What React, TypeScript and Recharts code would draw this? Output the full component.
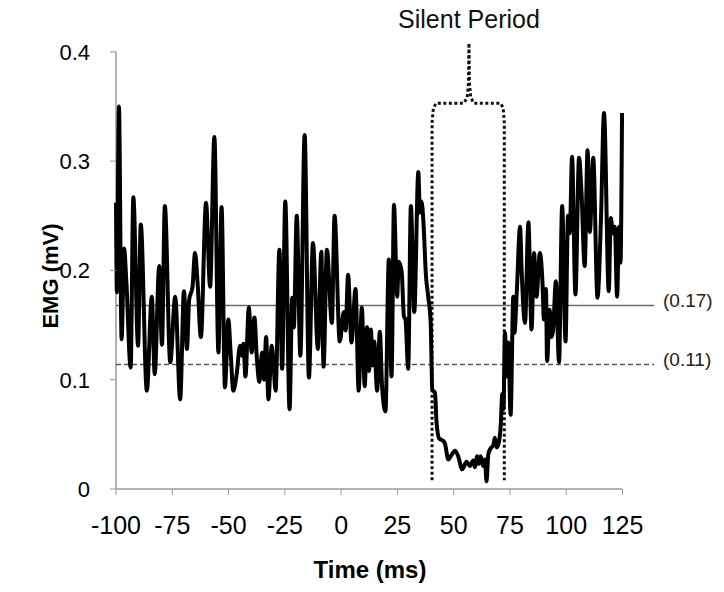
import React from "react";
import {
  LineChart,
  Line,
  XAxis,
  YAxis,
  ReferenceLine,
  ReferenceDot,
  Label,
} from "recharts";

// EMG trace (time in ms, amplitude in mV)
const emgTime = [
  -100, -99.6, -98.7, -97.5, -96.4, -95.4, -93.5, -92.3, -90.2, -89.0,
  -86.3, -84.1, -82.8, -80.8, -79.6, -78.3, -75.9, -73.7, -71.5, -69.8,
  -68.5, -67.5, -66.0, -64.9, -63.8, -62.3, -60.0, -58.2, -56.3, -54.5,
  -53.1, -51.6, -50.1, -49.0, -47.9, -46.4, -44.9, -44.0, -43.4, -42.5,
  -41.0, -39.7, -38.5, -37.5, -36.3, -35.1, -34.3, -33.3, -32.3, -30.8,
  -30.0, -29.1, -27.4, -26.2, -24.8, -22.9, -21.7, -21.0, -19.7, -18.1,
  -16.2, -14.3, -12.5, -10.3, -8.8, -7.8, -6.3, -4.1, -2.9, -0.6,
  1.2, 2.0, 3.1, 4.6, 6.4, 7.8, 9.2, 10.5, 11.5, 12.4,
  13.2, 14.0, 14.7, 16.0, 17.2, 18.2, 19.7, 21.2, 22.4, 23.5,
  24.9, 25.6, 26.9, 27.9, 28.6, 29.8, 31.0, 32.5, 34.3, 35.0,
  35.7, 36.5, 37.7, 38.7, 39.8, 40.5, 41.7, 42.4, 43.6, 45.4,
  46.2, 47.6, 49.0, 50.6, 52.0, 53.8, 55.7, 57.2, 58.7, 59.4,
  60.5, 61.2, 62.0, 63.1, 63.9, 64.6, 65.4, 66.4, 67.6, 68.3,
  69.1, 70.1, 70.9, 71.6, 72.1, 72.8, 73.5, 74.3, 75.3, 76.5,
  77.0, 78.0, 79.5, 80.2, 81.7, 83.2, 84.6, 85.7, 86.8, 88.3,
  89.5, 90.1, 91.0, 91.5, 92.7, 93.5, 94.2, 95.4, 96.8, 98.2,
  99.7, 100.8, 101.6, 102.6, 104.1, 105.7, 106.8, 108.2, 109.5, 110.5,
  112.0, 113.9, 115.4, 116.8, 118.9, 119.8, 120.8, 121.6, 122.6, 123.5,
  124.1, 124.8,
];

const emgValue = [
  0.262, 0.18, 0.35, 0.137, 0.22, 0.19, 0.111, 0.267, 0.131, 0.242,
  0.09, 0.176, 0.105, 0.204, 0.132, 0.259, 0.116, 0.176, 0.082, 0.181,
  0.128, 0.173, 0.185, 0.216, 0.19, 0.139, 0.262, 0.185, 0.322, 0.125,
  0.258, 0.093, 0.155, 0.122, 0.09, 0.105, 0.131, 0.122, 0.133, 0.103,
  0.166, 0.125, 0.157, 0.122, 0.098, 0.125, 0.1, 0.139, 0.082, 0.131,
  0.113, 0.09, 0.219, 0.11, 0.263, 0.073, 0.175, 0.148, 0.25, 0.122,
  0.324, 0.102, 0.225, 0.128, 0.217, 0.112, 0.219, 0.152, 0.25, 0.135,
  0.162, 0.145, 0.196, 0.134, 0.183, 0.09, 0.166, 0.094, 0.148, 0.108,
  0.146, 0.113, 0.135, 0.09, 0.144, 0.094, 0.071, 0.21, 0.103, 0.26,
  0.176, 0.208, 0.199, 0.158, 0.155, 0.11, 0.259, 0.162, 0.29, 0.253,
  0.263, 0.247, 0.195, 0.176, 0.152, 0.091, 0.088, 0.061, 0.046, 0.044,
  0.041, 0.027, 0.031, 0.035, 0.03, 0.018, 0.025, 0.021, 0.026, 0.02,
  0.03, 0.023, 0.03, 0.021, 0.027, 0.007, 0.032, 0.037, 0.04, 0.047,
  0.038, 0.043, 0.058, 0.087, 0.073, 0.143, 0.103, 0.134, 0.068, 0.176,
  0.143, 0.178, 0.24, 0.2, 0.152, 0.244, 0.146, 0.216, 0.176, 0.216,
  0.187, 0.155, 0.183, 0.117, 0.164, 0.139, 0.146, 0.19, 0.116, 0.259,
  0.135, 0.25, 0.234, 0.304, 0.178, 0.303, 0.271, 0.204, 0.31, 0.235,
  0.303, 0.175, 0.244, 0.344, 0.181, 0.248, 0.234, 0.24, 0.176, 0.24,
  0.207, 0.344,
];

// dotted brace marking the silent period
const braceTime = [40.4, 40.4, 41.0, 42.3, 54.5, 56.0, 56.6, 56.8, 57.0, 57.6, 59.0, 70.8, 72.0, 72.5, 72.5];
const braceValue = [0.008, 0.335, 0.349, 0.353, 0.353, 0.358, 0.372, 0.408, 0.372, 0.358, 0.353, 0.353, 0.349, 0.335, 0.008];

const xTicks = [-100, -75, -50, -25, 0, 25, 50, 75, 100, 125];
const yTicks = [0, 0.1, 0.2, 0.3, 0.4];

const meanLevel = 0.168;
const cutoffLevel = 0.114;

const emgData = emgTime.map((t, i) => ({ t, v: emgValue[i] }));
const braceData = braceTime.map((t, i) => ({ t, v: braceValue[i] }));

// rotated y-axis title
const YTitle = () => (
  <text
    x={0}
    y={0}
    transform="translate(50, 276) rotate(-90)"
    textAnchor="middle"
    dominantBaseline="central"
    style={{ fontSize: 22, fontWeight: "bold", fill: "#000" }}
  >
    EMG (mV)
  </text>
);

export default function App() {
  return (
    <div style={{ position: "absolute", left: 0, top: 0, width: 724, height: 592, background: "#fff" }}>
      <LineChart
        width={724}
        height={592}
        margin={{ top: 30, right: 70, bottom: 0, left: 30 }}
        style={{ fontFamily: "'Liberation Sans', Arial, sans-serif" }}
      >
        <XAxis
          dataKey="t"
          type="number"
          domain={[-100, 139]}
          ticks={xTicks}
          axisLine={false}
          tickLine={{ stroke: "#999" }}
          tickSize={6}
          tickMargin={21}
          tick={{ fontSize: 25, fill: "#000" }}
          height={103}
        >
          <Label
            value="Time (ms)"
            position="insideBottom"
            offset={14}
            dx={-15}
            style={{ fontSize: 24, fontWeight: "bold", fill: "#000" }}
          />
        </XAxis>
        <YAxis
          type="number"
          domain={[0, 0.42]}
          ticks={yTicks}
          axisLine={false}
          tickLine={{ stroke: "#999" }}
          tickSize={6}
          tickMargin={20}
          tick={{ fontSize: 22, fill: "#000" }}
          width={86}
        >
          <Label content={YTitle} />
        </YAxis>

        {/* axis lines stop at the last tick */}
        <ReferenceLine segment={[{ x: -100, y: 0 }, { x: 125, y: 0 }]} stroke="#999" strokeWidth={1.5} />
        <ReferenceLine segment={[{ x: -100, y: 0 }, { x: -100, y: 0.4 }]} stroke="#999" strokeWidth={1.5} />

        <ReferenceLine y={meanLevel} stroke="#6b6b6b" strokeWidth={1.5}>
          <Label value="(0.17)" position="right" offset={9} dy={-5} style={{ fontSize: 19, fill: "#222" }} />
        </ReferenceLine>
        <ReferenceLine y={cutoffLevel} stroke="#555" strokeWidth={1.5} strokeDasharray="5 3">
          <Label value="(0.11)" position="right" offset={9} dy={-5} style={{ fontSize: 19, fill: "#222" }} />
        </ReferenceLine>

        <Line
          data={braceData}
          dataKey="v"
          type="linear"
          stroke="#111"
          strokeWidth={3}
          strokeDasharray="3 2.5"
          dot={false}
          isAnimationActive={false}
        />
        <Line
          data={emgData}
          dataKey="v"
          type="monotone"
          stroke="#000"
          strokeWidth={4}
          strokeLinejoin="round"
          dot={false}
          isAnimationActive={false}
        />

        <ReferenceDot x={56.8} y={0.408} r={0} fill="none" stroke="none">
          <Label value="Silent Period" position="top" offset={15} style={{ fontSize: 25, fill: "#111" }} />
        </ReferenceDot>
      </LineChart>
    </div>
  );
}
